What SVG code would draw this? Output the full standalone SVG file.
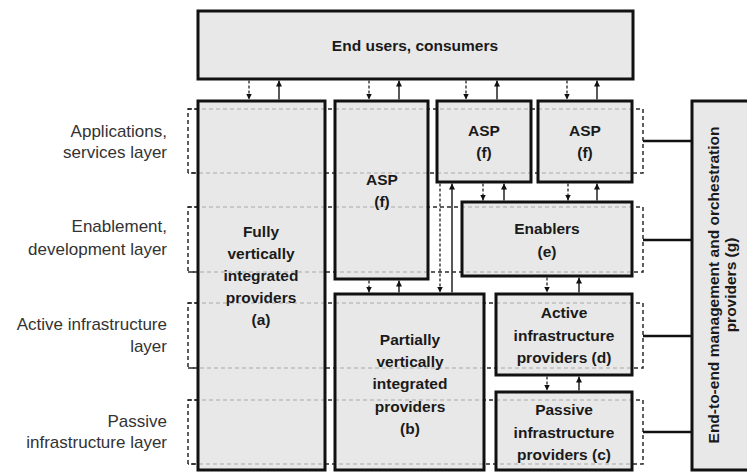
<svg xmlns="http://www.w3.org/2000/svg" width="747" height="472" viewBox="0 0 747 472">
<defs>
<style>
.box{fill:#e2e2e2;fill-opacity:.8;stroke:#111;stroke-width:3}
.lbl{font-family:"Liberation Sans",Arial,sans-serif;font-size:17px;fill:#333;text-anchor:end}
.bt{font-family:"Liberation Sans",Arial,sans-serif;font-weight:bold;font-size:15.5px;fill:#1a1a1a;text-anchor:middle}
.band{stroke:#2a2a2a;stroke-width:1.5;stroke-dasharray:4 3;fill:none}
.dash{stroke:#222;stroke-width:1.3;stroke-dasharray:3 2;fill:none}
.solid{stroke:#222;stroke-width:1.5;fill:none}
.link{stroke:#111;stroke-width:2.5;fill:none}
</style>
<marker id="ah" viewBox="0 0 10 10" refX="10" refY="5" markerWidth="6" markerHeight="6" markerUnits="userSpaceOnUse" orient="auto">
<path d="M0,0 L10,5 L0,10 z" fill="#111"/>
</marker>
</defs>
<rect width="747" height="472" fill="#fff"/>

<g id="layer-bands">
<path class="band" d="M198,109 H188 V173 H198 M198,207 H188 V272 H198 M198,303 H188 V368 H198 M198,400 H188 V464 H198"/>
<path class="band" d="M188,109 H643 V173 H188 M188,207 H643 V272 H188 M188,303 H643 V368 H188 M188,400 H643 V464 H188"/>
</g>

<g id="layer-labels">
<text class="lbl" x="167" y="137">Applications,</text>
<text class="lbl" x="167" y="158">services layer</text>
<text class="lbl" x="167" y="232">Enablement,</text>
<text class="lbl" x="167" y="255">development layer</text>
<text class="lbl" x="167" y="330">Active infrastructure</text>
<text class="lbl" x="167" y="352">layer</text>
<text class="lbl" x="167" y="427">Passive</text>
<text class="lbl" x="167" y="448">infrastructure layer</text>
</g>

<g id="end-users">
<rect class="box" x="198" y="11" width="435" height="68"/>
<text class="bt" x="415" y="51">End users, consumers</text>
</g>

<g id="fully-integrated">
<rect class="box" x="198" y="101" width="127" height="369"/>
<text class="bt" x="261" y="237">Fully</text>
<text class="bt" x="261" y="259">vertically</text>
<text class="bt" x="261" y="281">integrated</text>
<text class="bt" x="261" y="303">providers</text>
<text class="bt" x="261" y="325">(a)</text>
</g>

<g id="asp-tall">
<rect class="box" x="335" y="101" width="93" height="178"/>
<text class="bt" x="382" y="185">ASP</text>
<text class="bt" x="382" y="207">(f)</text>
</g>

<g id="asp-1">
<rect class="box" x="437" y="101" width="94" height="81"/>
<text class="bt" x="484" y="136">ASP</text>
<text class="bt" x="484" y="158">(f)</text>
</g>

<g id="asp-2">
<rect class="box" x="538" y="101" width="94" height="81"/>
<text class="bt" x="585" y="136">ASP</text>
<text class="bt" x="585" y="158">(f)</text>
</g>

<g id="enablers">
<rect class="box" x="462" y="202" width="170" height="74"/>
<text class="bt" x="547" y="234">Enablers</text>
<text class="bt" x="547" y="257">(e)</text>
</g>

<g id="partially-integrated">
<rect class="box" x="335" y="294" width="149" height="176"/>
<text class="bt" x="410" y="345">Partially</text>
<text class="bt" x="410" y="367">vertically</text>
<text class="bt" x="410" y="389">integrated</text>
<text class="bt" x="410" y="412">providers</text>
<text class="bt" x="410" y="434">(b)</text>
</g>

<g id="active-infra">
<rect class="box" x="496" y="294" width="136" height="81"/>
<text class="bt" x="564" y="318">Active</text>
<text class="bt" x="564" y="341">infrastructure</text>
<text class="bt" x="564" y="363">providers (d)</text>
</g>

<g id="passive-infra">
<rect class="box" x="496" y="392" width="136" height="78"/>
<text class="bt" x="564" y="415">Passive</text>
<text class="bt" x="564" y="438">infrastructure</text>
<text class="bt" x="564" y="460">providers (c)</text>
</g>

<g id="orchestration">
<rect class="box" x="692" y="101" width="60" height="369"/>
<g transform="translate(719,285) rotate(-90)">
<text class="bt" x="0" y="0">End-to-end management and orchestration</text>
<text class="bt" x="0" y="17">providers (g)</text>
</g>
</g>

<g id="connectors">
<line class="dash" x1="249" y1="80.5" x2="249" y2="99.5" marker-end="url(#ah)"/>
<line class="solid" x1="279" y1="99.5" x2="279" y2="80.5" marker-end="url(#ah)"/>
<line class="dash" x1="369" y1="80.5" x2="369" y2="99.5" marker-end="url(#ah)"/>
<line class="solid" x1="399" y1="99.5" x2="399" y2="80.5" marker-end="url(#ah)"/>
<line class="dash" x1="466" y1="80.5" x2="466" y2="99.5" marker-end="url(#ah)"/>
<line class="solid" x1="497" y1="99.5" x2="497" y2="80.5" marker-end="url(#ah)"/>
<line class="dash" x1="567" y1="80.5" x2="567" y2="99.5" marker-end="url(#ah)"/>
<line class="solid" x1="597" y1="99.5" x2="597" y2="80.5" marker-end="url(#ah)"/>

<line class="dash" x1="369" y1="280.5" x2="369" y2="292.5" marker-end="url(#ah)"/>
<line class="solid" x1="399" y1="292.5" x2="399" y2="280.5" marker-end="url(#ah)"/>
<line class="dash" x1="440" y1="183.5" x2="440" y2="292.5" marker-end="url(#ah)"/>
<line class="solid" x1="452" y1="292.5" x2="452" y2="183.5" marker-end="url(#ah)"/>

<line class="dash" x1="483" y1="183.5" x2="483" y2="200.5" marker-end="url(#ah)"/>
<line class="solid" x1="504" y1="200.5" x2="504" y2="183.5" marker-end="url(#ah)"/>
<line class="dash" x1="568" y1="183.5" x2="568" y2="200.5" marker-end="url(#ah)"/>
<line class="solid" x1="597" y1="200.5" x2="597" y2="183.5" marker-end="url(#ah)"/>

<line class="dash" x1="547" y1="277.5" x2="547" y2="292.5" marker-end="url(#ah)"/>
<line class="solid" x1="579" y1="292.5" x2="579" y2="277.5" marker-end="url(#ah)"/>
<line class="dash" x1="547" y1="376.5" x2="547" y2="390.5" marker-end="url(#ah)"/>
<line class="solid" x1="579" y1="390.5" x2="579" y2="376.5" marker-end="url(#ah)"/>

<line class="link" x1="643" y1="141" x2="692" y2="141"/>
<line class="link" x1="643" y1="240" x2="692" y2="240"/>
<line class="link" x1="643" y1="336" x2="692" y2="336"/>
<line class="link" x1="643" y1="432" x2="692" y2="432"/>
</g>
</svg>
